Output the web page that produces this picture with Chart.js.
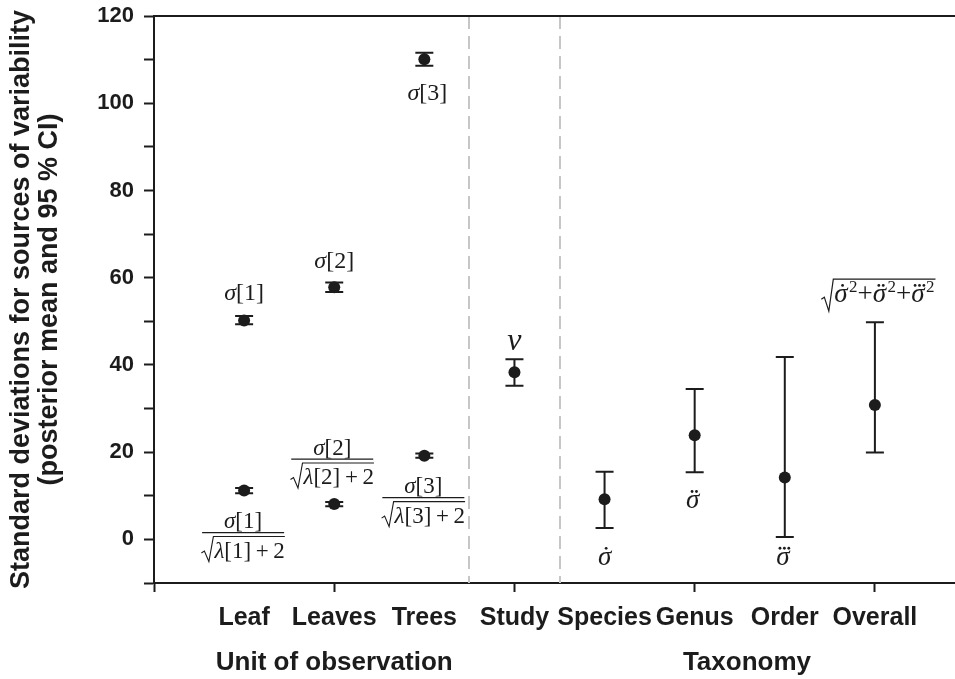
<!DOCTYPE html>
<html><head><meta charset="utf-8">
<script src="https://cdn.jsdelivr.net/npm/chart.js@4"></script>
<style>html,body{margin:0;padding:0;background:#fff;overflow:hidden;width:955px;height:679px}#wrap{width:955px;height:679px;overflow:hidden}</style>
</head><body><div id="wrap"><canvas id="c" width="962" height="679"></canvas></div>
<script>
// ---- data ----
const categoryLabels = ['', 'Leaf', 'Leaves', 'Trees', 'Study', 'Species', 'Genus', 'Order', 'Overall'];
const pointX = [1, 1, 2, 2, 3, 3, 4, 5, 6, 7, 8];
const means  = [50.2, 11.2, 57.8, 8.1, 110.1, 19.2, 38.3, 9.2, 23.9, 14.2, 30.8];
const lower  = [49.3, 10.6, 56.7, 7.6, 108.6, 18.7, 35.2, 2.6, 15.4, 0.55, 19.9];
const upper  = [51.2, 11.8, 58.9, 8.6, 111.6, 19.7, 41.3, 15.5, 34.5, 41.8, 49.8];
const yTickValues = [-10, 0, 10, 20, 30, 40, 50, 60, 70, 80, 90, 100, 110, 120];
const xTickMarks = [0, 2, 4, 6, 8];
const dividers = [3.5, 4.5];
const groupTitles = ['Unit of observation', 'Taxonomy'];
const groupTitleX = [2, 6.58];
const yTitle = ['Standard deviations for sources of variability', '(posterior mean and 95 % CI)'];

const INK = '#1c1c1c';
const SERIF = '"Liberation Serif", "DejaVu Serif", serif';
const SANS = '"Liberation Sans", Arial, sans-serif';

function drawRun(ctx, pieces, cx, cy) {
  let widths = pieces.map(p => { ctx.font = p.font; return ctx.measureText(p.t).width; });
  const total = widths.reduce((a, b) => a + b, 0);
  let x = cx - total / 2;
  ctx.textBaseline = 'alphabetic';
  ctx.textAlign = 'left';
  pieces.forEach((p, i) => {
    ctx.font = p.font;
    const base = cy + (p.dy || 0);
    ctx.fillText(p.t, x, base);
    if (p.dots) {
      const dcx = x + widths[i] * 0.62;
      const dcy = base - p.size * 0.62;
      for (let k = 0; k < p.dots; k++) {
        const off = (k - (p.dots - 1) / 2) * 4.4;
        ctx.beginPath(); ctx.arc(dcx + off, dcy, 1.4, 0, Math.PI * 2); ctx.fill();
      }
    }
    x += widths[i];
  });
  return { left: cx - total / 2, width: total };
}
function it(s) { return 'italic ' + s + 'px ' + SERIF; }
function rm(s) { return s + 'px ' + SERIF; }

function sigmaLabel(ctx, cx, cy, idx, s) {
  s = s || 24;
  drawRun(ctx, [{ t: '\u03C3', font: it(s) }, { t: '[' + idx + ']', font: rm(s) }], cx, cy + s * 0.33);
}
function radical(ctx, x, top, bottom, width) {
  const mid = (top + bottom) / 2 + 4;
  ctx.beginPath();
  ctx.moveTo(x, mid);
  ctx.lineTo(x + 3, mid - 2);
  ctx.lineTo(x + 7.5, bottom);
  ctx.lineTo(x + 12, top);
  ctx.lineTo(x + 12 + width, top);
  ctx.stroke();
}
function fraction(ctx, cx, barY, idx) {
  sigmaLabel(ctx, cx, barY - 12, idx, 23);
  ctx.lineWidth = 1.2;
  ctx.beginPath(); ctx.moveTo(cx - 41, barY); ctx.lineTo(cx + 41, barY); ctx.stroke();
  const pieces = [{ t: '\u03BB', font: it(23) }, { t: '[' + idx + ']', font: rm(23) }, { t: '\u2009+\u20092', font: rm(23) }];
  let w = 0; pieces.forEach(p => { ctx.font = p.font; w += ctx.measureText(p.t).width; });
  const total = w + 13;
  const left = cx - total / 2;
  drawRun(ctx, pieces, left + 13 + w / 2, barY + 25);
  ctx.lineWidth = 1.1;
  radical(ctx, left, barY + 4, barY + 29, w + 1);
}

const annot = {
  id: 'annot',
  beforeDatasetsDraw(chart) {
    const { ctx, chartArea: a, scales: { x, y } } = chart;
    ctx.save();
    ctx.strokeStyle = '#c6c6c6'; ctx.lineWidth = 2; ctx.setLineDash([13, 7]);
    dividers.forEach(v => {
      const px = Math.round(x.getPixelForValue(v));
      ctx.beginPath(); ctx.moveTo(px, a.top); ctx.lineTo(px, a.bottom); ctx.stroke();
    });
    ctx.setLineDash([]);
    ctx.strokeStyle = INK; ctx.lineWidth = 2;
    ctx.beginPath(); ctx.moveTo(a.left, a.top); ctx.lineTo(a.right, a.top); ctx.stroke();
    pointX.forEach((xv, i) => {
      const px = x.getPixelForValue(xv), pl = y.getPixelForValue(lower[i]), ph = y.getPixelForValue(upper[i]);
      ctx.beginPath();
      ctx.moveTo(px, pl); ctx.lineTo(px, ph);
      ctx.moveTo(px - 9, pl); ctx.lineTo(px + 9, pl);
      ctx.moveTo(px - 9, ph); ctx.lineTo(px + 9, ph);
      ctx.stroke();
    });
    ctx.restore();
  },
  afterDraw(chart) {
    const { ctx, chartArea: a, scales: { x, y } } = chart;
    const P = i => ({ x: x.getPixelForValue(pointX[i]), y: y.getPixelForValue(means[i]),
                      lo: y.getPixelForValue(lower[i]), hi: y.getPixelForValue(upper[i]) });
    ctx.save();
    ctx.fillStyle = INK; ctx.strokeStyle = INK;
    // sigma labels
    let p = P(0); sigmaLabel(ctx, p.x, p.y - 28, 1);
    p = P(2); sigmaLabel(ctx, p.x, p.y - 27, 2);
    p = P(4); sigmaLabel(ctx, p.x + 3, p.y + 33, 3);
    // fractions
    p = P(1); fraction(ctx, p.x - 1, p.y + 42, 1);
    p = P(3); fraction(ctx, p.x - 2, p.y - 45, 2);
    p = P(5); fraction(ctx, p.x - 1, p.y + 42, 3);
    // nu
    p = P(6); drawRun(ctx, [{ t: '\u03BD', font: it(32) }], p.x, p.y - 22);
    // dotted sigmas
    p = P(7); drawRun(ctx, [{ t: '\u03C3', font: it(27), dots: 1, size: 27 }], p.x, p.lo + 37);
    p = P(8); drawRun(ctx, [{ t: '\u03C3', font: it(27), dots: 2, size: 27 }], p.x - 2, p.lo + 36);
    p = P(9); drawRun(ctx, [{ t: '\u03C3', font: it(27), dots: 3, size: 27 }], p.x - 2, p.lo + 28);
    // overall radical
    p = P(10);
    const s = 27, ss = 17;
    const pieces = [
      { t: '\u03C3', font: it(s), dots: 1, size: s }, { t: '\u200A2', font: rm(ss), dy: -10 }, { t: '+', font: rm(s) },
      { t: '\u03C3', font: it(s), dots: 2, size: s }, { t: '\u200A2', font: rm(ss), dy: -10 }, { t: '+', font: rm(s) },
      { t: '\u03C3', font: it(s), dots: 3, size: s }, { t: '\u200A2', font: rm(ss), dy: -10 }
    ];
    let w = 0; pieces.forEach(q => { ctx.font = q.font; w += ctx.measureText(q.t).width; });
    const cx = p.x + 3, cy = p.hi - 28;
    const left = cx - (w + 13) / 2;
    drawRun(ctx, pieces, left + 13 + w / 2, cy + 8);
    ctx.lineWidth = 1.2;
    radical(ctx, left, cy - 15, cy + 17, w + 2);
    // group titles
    ctx.font = 'bold 26px ' + SANS; ctx.textAlign = 'center'; ctx.textBaseline = 'middle';
    groupTitles.forEach((t, i) => ctx.fillText(t, x.getPixelForValue(groupTitleX[i]), a.bottom + 80));
    // y title
    ctx.translate(0, (a.top + a.bottom) / 2);
    ctx.rotate(-Math.PI / 2);
    ctx.font = 'bold 27px ' + SANS;
    ctx.fillText(yTitle[0], 0, 22);
    ctx.fillText(yTitle[1], 0, 50);
    ctx.restore();
  }
};

new Chart(document.getElementById('c'), {
  type: 'scatter',
  data: { datasets: [{
    data: pointX.map((xv, i) => ({ x: xv, y: means[i] })),
    pointRadius: 6, pointHoverRadius: 6, backgroundColor: INK, borderWidth: 0
  }] },
  options: {
    responsive: false, animation: false, events: [],
    layout: { padding: { top: 16, right: 0, left: 0, bottom: 0 } },
    plugins: { legend: { display: false }, tooltip: { enabled: false } },
    scales: {
      x: {
        type: 'linear', min: 0, max: 8.9,
        afterBuildTicks: sc => { sc.ticks = categoryLabels.map((_, i) => ({ value: i })); },
        afterFit: sc => { sc.height = 96; sc.paddingLeft = 0; sc.paddingRight = 0; },
        ticks: { autoSkip: false, maxRotation: 0, padding: 11, color: INK,
                 font: { family: SANS, size: 25, weight: 'bold' },
                 callback: v => categoryLabels[v] },
        grid: { drawOnChartArea: false, drawTicks: true, tickLength: 9, tickWidth: 2,
                tickColor: c => xTickMarks.includes(c.tick.value) ? INK : 'rgba(0,0,0,0)' },
        border: { color: INK, width: 2 }
      },
      y: {
        min: -10, max: 120,
        afterBuildTicks: sc => { sc.ticks = yTickValues.map(v => ({ value: v })); },
        afterFit: sc => { sc.width = 154; sc.paddingTop = 0; sc.paddingBottom = 0; },
        ticks: { autoSkip: false, padding: 10, color: INK,
                 font: { family: SANS, size: 22, weight: 'bold' },
                 callback: v => (v % 20 === 0 ? v : '') },
        grid: { drawOnChartArea: false, drawTicks: true, tickLength: 10, tickWidth: 2, tickColor: INK },
        border: { color: INK, width: 2 }
      }
    }
  },
  plugins: [annot]
});
</script>
</body></html>
